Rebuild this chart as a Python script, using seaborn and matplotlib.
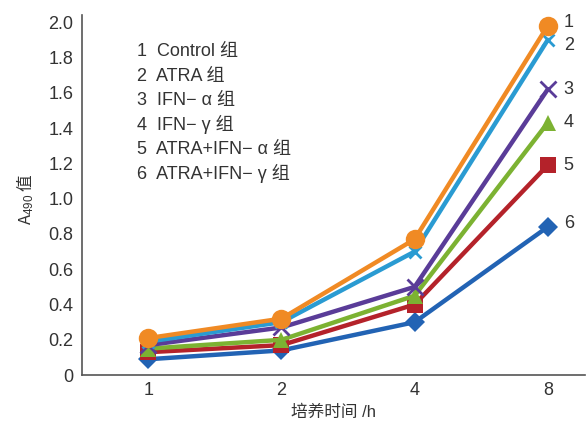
import matplotlib
matplotlib.use("Agg")
import matplotlib.pyplot as plt
import seaborn as sns
import pandas as pd

# ─── Data ────────────────────────────────────────────────────────────────────
hours = ["1", "2", "4", "8"]
groups = ["Control 组", "ATRA 组", "IFN− α 组", "IFN− γ 组", "ATRA+IFN− α 组", "ATRA+IFN− γ 组"]
control = [0.21, 0.32, 0.77, 1.98]
atra = [0.19, 0.30, 0.70, 1.90]
ifn_a = [0.17, 0.27, 0.50, 1.62]
ifn_g = [0.15, 0.20, 0.45, 1.43]
atra_ifn_a = [0.13, 0.17, 0.40, 1.19]
atra_ifn_g = [0.09, 0.14, 0.30, 0.84]
series = [control, atra, ifn_a, ifn_g, atra_ifn_a, atra_ifn_g]
yticks = [0, 0.2, 0.4, 0.6, 0.8, 1.0, 1.2, 1.4, 1.6, 1.8, 2.0]

# ─── Style ───────────────────────────────────────────────────────────────────
colors = ["#F08A24", "#2A9BD2", "#5A3C98", "#7CB232", "#B4222A", "#2263B4"]
markers = ["o", "x", "x", "^", "s", "D"]
msizes = [14, 9, 12, 11, 12, 10]
mew = [0, 2, 2, 0, 0, 0]
label_dy = [0.02, -0.03, 0.0, 0.0, 0.0, 0.02]
TXT = "#333333"

sns.set_style("white")
plt.rcParams["font.family"] = ["Liberation Sans", "Noto Sans CJK SC", "DejaVu Sans"]
plt.rcParams["axes.unicode_minus"] = False
plt.rcParams["mathtext.fontset"] = "custom"
plt.rcParams["mathtext.rm"] = "Liberation Sans"
plt.rcParams["mathtext.default"] = "rm"

fig = plt.figure(figsize=(5.88, 4.21), dpi=100)
ax = fig.add_axes([0.139, 0.109, 0.856, 0.855])

for i, vals in enumerate(series):
    df = pd.DataFrame({"h": hours, "a": vals})
    sns.lineplot(data=df, x="h", y="a", ax=ax, color=colors[i], lw=3.2,
                 marker=markers[i], markersize=msizes[i], markeredgewidth=mew[i],
                 markeredgecolor=colors[i], zorder=10 - i)
    ax.text(3.12, vals[-1] + label_dy[i], str(i + 1),
            fontsize=13, color=TXT, va="center", ha="left")

# legend as plain text block
for i, g in enumerate(groups):
    ax.text(0.11, 0.898 - i * 0.0675, f"{i + 1}  {g}", transform=ax.transAxes,
            fontsize=13, color=TXT, va="center", ha="left")

ax.set_xlim(-0.5, 3.28)
ax.set_ylim(0, 2.04)
ax.set_yticks(yticks)
ax.set_yticklabels(["0"] + [f"{v:.1f}" for v in yticks[1:]])
ax.tick_params(direction="in", length=6, width=1, colors="#555555",
               labelcolor=TXT, labelsize=13, pad=6)
ax.tick_params(axis="x", pad=5)
sns.despine(ax=ax)
for s in ["left", "bottom"]:
    ax.spines[s].set_color("#555555")
    ax.spines[s].set_linewidth(1.2)

ax.set_xlabel("培养时间 /h", fontsize=12, color=TXT, labelpad=4)
ax.set_ylabel("A$_{490}$ 值", fontsize=12, color=TXT, labelpad=2,
              family="Noto Sans CJK SC")
ax.yaxis.set_label_coords(-0.09, 0.49)

fig.savefig("out.png", dpi=100)
